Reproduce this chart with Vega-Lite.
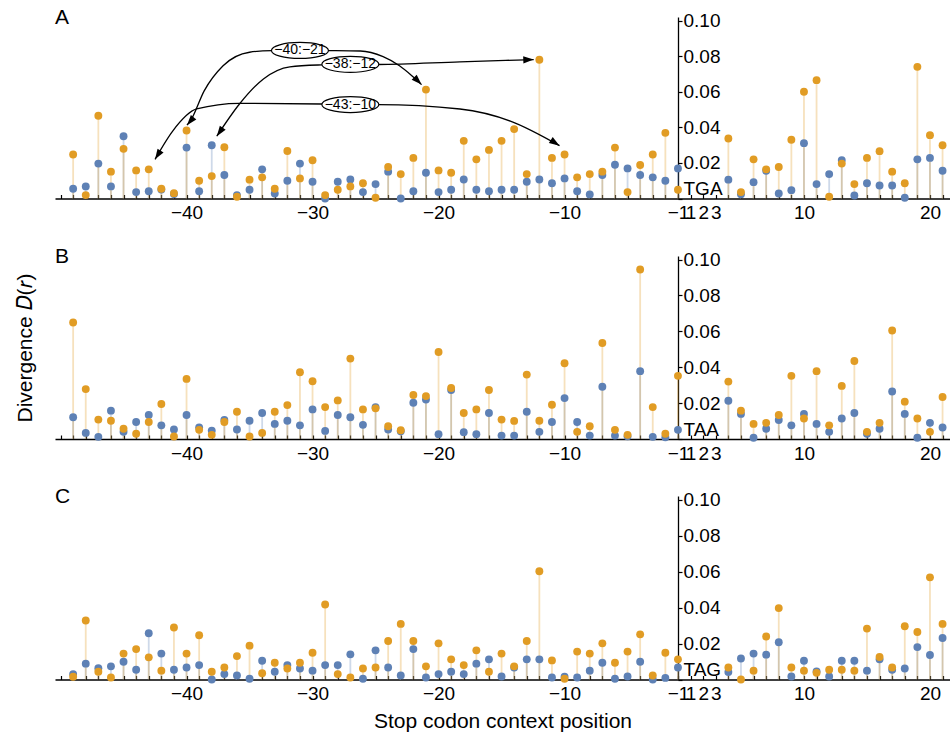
{
"$schema":"https://vega.github.io/schema/vega-lite/v6.json",
"padding":{"left":14,"top":6,"right":0,"bottom":0},
"background":"white",
"spacing":57,
"bounds":"flush",
"config":{"font":"Liberation Sans","view":{"stroke":null},
"axis":{"grid":false,"domainColor":"black","tickColor":"black","labelColor":"black","titleColor":"black","labelFontSize":19,"titleFontSize":21,"titleFontWeight":"normal","domainWidth":1.3,"tickWidth":1.2,"labelOverlap":false,"labelFont":"Liberation Sans","titleFont":"Liberation Sans"},
"title":{"fontSize":21,"fontWeight":"normal","anchor":"start","frame":"group","offset":-16,"color":"black","font":"Liberation Sans"}},
"datasets":{
"A":[
{"pos":-49,"s":"b","D":0.0055},{"pos":-49,"s":"o","D":0.0247},{"pos":-48,"s":"b","D":0.0068},{"pos":-48,"s":"o","D":0.0019},{"pos":-47,"s":"b","D":0.0196},{"pos":-47,"s":"o","D":0.0465},{"pos":-46,"s":"b","D":0.0068},{"pos":-46,"s":"o","D":0.0151},{"pos":-45,"s":"b","D":0.035},{"pos":-45,"s":"o","D":0.0279},{"pos":-44,"s":"b","D":0.0036},{"pos":-44,"s":"o","D":0.0158},{"pos":-43,"s":"b","D":0.0041},{"pos":-43,"s":"o","D":0.0164},{"pos":-42,"s":"b","D":0.005},{"pos":-42,"s":"o","D":0.0055},{"pos":-41,"s":"b","D":0.0025},{"pos":-41,"s":"o","D":0.003},{"pos":-40,"s":"b","D":0.0286},{"pos":-40,"s":"o","D":0.0382},{"pos":-39,"s":"b","D":0.0041},{"pos":-39,"s":"o","D":0.01},{"pos":-38,"s":"b","D":0.0299},{"pos":-38,"s":"o","D":0.0126},{"pos":-37,"s":"b","D":0.0132},{"pos":-37,"s":"o","D":0.0288},{"pos":-36,"s":"b","D":0.0019},{"pos":-36,"s":"o","D":0.001},{"pos":-35,"s":"b","D":0.0049},{"pos":-35,"s":"o","D":0.0106},{"pos":-34,"s":"b","D":0.0164},{"pos":-34,"s":"o","D":0.0119},{"pos":-33,"s":"b","D":0.0028},{"pos":-33,"s":"o","D":0.0055},{"pos":-32,"s":"b","D":0.01},{"pos":-32,"s":"o","D":0.0267},{"pos":-31,"s":"b","D":0.0196},{"pos":-31,"s":"o","D":0.0113},{"pos":-30,"s":"b","D":0.0094},{"pos":-30,"s":"o","D":0.0215},
{"pos":-29,"s":"b","D":0.0},{"pos":-29,"s":"o","D":0.0019},{"pos":-28,"s":"b","D":0.0094},{"pos":-28,"s":"o","D":0.0049},{"pos":-27,"s":"b","D":0.0107},{"pos":-27,"s":"o","D":0.0068},{"pos":-26,"s":"b","D":0.0036},{"pos":-26,"s":"o","D":0.0086},{"pos":-25,"s":"b","D":0.0081},{"pos":-25,"s":"o","D":0.0004},{"pos":-24,"s":"b","D":0.0151},{"pos":-24,"s":"o","D":0.0177},{"pos":-23,"s":"b","D":0.0},{"pos":-23,"s":"o","D":0.0137},{"pos":-22,"s":"b","D":0.0041},{"pos":-22,"s":"o","D":0.0228},{"pos":-21,"s":"b","D":0.0145},{"pos":-21,"s":"o","D":0.0612},{"pos":-20,"s":"b","D":0.0036},{"pos":-20,"s":"o","D":0.0158},{"pos":-19,"s":"b","D":0.0049},{"pos":-19,"s":"o","D":0.0145},{"pos":-18,"s":"b","D":0.0107},{"pos":-18,"s":"o","D":0.0324},{"pos":-17,"s":"b","D":0.0049},{"pos":-17,"s":"o","D":0.022},{"pos":-16,"s":"b","D":0.0041},{"pos":-16,"s":"o","D":0.0273},{"pos":-15,"s":"b","D":0.0049},{"pos":-15,"s":"o","D":0.0324},{"pos":-14,"s":"b","D":0.0049},{"pos":-14,"s":"o","D":0.039},{"pos":-13,"s":"b","D":0.0094},{"pos":-13,"s":"o","D":0.0137},{"pos":-12,"s":"b","D":0.0107},{"pos":-12,"s":"o","D":0.078},{"pos":-11,"s":"b","D":0.0086},{"pos":-11,"s":"o","D":0.0228},{"pos":-10,"s":"b","D":0.0113},{"pos":-10,"s":"o","D":0.0247},
{"pos":-9,"s":"b","D":0.0041},{"pos":-9,"s":"o","D":0.0119},{"pos":-8,"s":"b","D":0.0023},{"pos":-8,"s":"o","D":0.0137},{"pos":-7,"s":"b","D":0.0132},{"pos":-7,"s":"o","D":0.0151},{"pos":-6,"s":"b","D":0.019},{"pos":-6,"s":"o","D":0.0286},{"pos":-5,"s":"b","D":0.0169},{"pos":-5,"s":"o","D":0.0036},{"pos":-4,"s":"b","D":0.0132},{"pos":-4,"s":"o","D":0.0188},{"pos":-3,"s":"b","D":0.0119},{"pos":-3,"s":"o","D":0.0247},{"pos":-2,"s":"b","D":0.01},{"pos":-2,"s":"o","D":0.0369},{"pos":-1,"s":"b","D":0.0169},{"pos":-1,"s":"o","D":0.0049},
{"pos":4,"s":"b","D":0.0106},{"pos":4,"s":"o","D":0.0337},{"pos":5,"s":"b","D":0.0024},{"pos":5,"s":"o","D":0.0036},{"pos":6,"s":"b","D":0.0092},{"pos":6,"s":"o","D":0.022},{"pos":7,"s":"b","D":0.0156},{"pos":7,"s":"o","D":0.0164},{"pos":8,"s":"b","D":0.0028},{"pos":8,"s":"o","D":0.0177},{"pos":9,"s":"b","D":0.0047},{"pos":9,"s":"o","D":0.033},{"pos":10,"s":"b","D":0.0311},{"pos":10,"s":"o","D":0.06},{"pos":11,"s":"b","D":0.0081},{"pos":11,"s":"o","D":0.0665},{"pos":12,"s":"b","D":0.0137},{"pos":12,"s":"o","D":0.001},{"pos":13,"s":"b","D":0.0216},{"pos":13,"s":"o","D":0.0196},{"pos":14,"s":"b","D":0.0017},{"pos":14,"s":"o","D":0.0081},{"pos":15,"s":"b","D":0.0086},{"pos":15,"s":"o","D":0.0228},{"pos":16,"s":"b","D":0.0073},{"pos":16,"s":"o","D":0.0266},{"pos":17,"s":"b","D":0.0073},{"pos":17,"s":"o","D":0.0151},{"pos":18,"s":"b","D":0.0004},{"pos":18,"s":"o","D":0.0086},{"pos":19,"s":"b","D":0.022},{"pos":19,"s":"o","D":0.074},{"pos":20,"s":"b","D":0.0228},{"pos":20,"s":"o","D":0.0356},{"pos":21,"s":"b","D":0.0156},{"pos":21,"s":"o","D":0.0299}],
"B":[
{"pos":-49,"s":"b","D":0.0121},{"pos":-49,"s":"o","D":0.0649},{"pos":-48,"s":"b","D":0.0034},{"pos":-48,"s":"o","D":0.0278},{"pos":-47,"s":"b","D":0.0012},{"pos":-47,"s":"o","D":0.0108},{"pos":-46,"s":"b","D":0.0158},{"pos":-46,"s":"o","D":0.0102},{"pos":-45,"s":"b","D":0.004},{"pos":-45,"s":"o","D":0.0057},{"pos":-44,"s":"b","D":0.0095},{"pos":-44,"s":"o","D":0.0029},{"pos":-43,"s":"b","D":0.0134},{"pos":-43,"s":"o","D":0.0095},{"pos":-42,"s":"b","D":0.0076},{"pos":-42,"s":"o","D":0.0195},{"pos":-41,"s":"b","D":0.0053},{"pos":-41,"s":"o","D":0.0014},{"pos":-40,"s":"b","D":0.0134},{"pos":-40,"s":"o","D":0.0335},{"pos":-39,"s":"b","D":0.0065},{"pos":-39,"s":"o","D":0.0051},{"pos":-38,"s":"b","D":0.0047},{"pos":-38,"s":"o","D":0.0023},{"pos":-37,"s":"b","D":0.0106},{"pos":-37,"s":"o","D":0.0095},{"pos":-36,"s":"b","D":0.0053},{"pos":-36,"s":"o","D":0.0152},{"pos":-35,"s":"b","D":0.0102},{"pos":-35,"s":"o","D":0.0014},{"pos":-34,"s":"b","D":0.0145},{"pos":-34,"s":"o","D":0.0034},{"pos":-33,"s":"b","D":0.0084},{"pos":-33,"s":"o","D":0.0152},{"pos":-32,"s":"b","D":0.0102},{"pos":-32,"s":"o","D":0.0189},{"pos":-31,"s":"b","D":0.0076},{"pos":-31,"s":"o","D":0.0372},{"pos":-30,"s":"b","D":0.0165},{"pos":-30,"s":"o","D":0.0322},
{"pos":-29,"s":"b","D":0.0045},{"pos":-29,"s":"o","D":0.0178},{"pos":-28,"s":"b","D":0.0134},{"pos":-28,"s":"o","D":0.0215},{"pos":-27,"s":"b","D":0.0121},{"pos":-27,"s":"o","D":0.0448},{"pos":-26,"s":"b","D":0.0079},{"pos":-26,"s":"o","D":0.0165},{"pos":-25,"s":"b","D":0.0178},{"pos":-25,"s":"o","D":0.0171},{"pos":-24,"s":"b","D":0.0053},{"pos":-24,"s":"o","D":0.0071},{"pos":-23,"s":"b","D":0.0043},{"pos":-23,"s":"o","D":0.0049},{"pos":-22,"s":"b","D":0.0202},{"pos":-22,"s":"o","D":0.0245},{"pos":-21,"s":"b","D":0.022},{"pos":-21,"s":"o","D":0.0239},{"pos":-20,"s":"b","D":0.0027},{"pos":-20,"s":"o","D":0.0485},{"pos":-19,"s":"b","D":0.0273},{"pos":-19,"s":"o","D":0.0284},{"pos":-18,"s":"b","D":0.0038},{"pos":-18,"s":"o","D":0.0145},{"pos":-17,"s":"b","D":0.0027},{"pos":-17,"s":"o","D":0.0165},{"pos":-16,"s":"b","D":0.0145},{"pos":-16,"s":"o","D":0.0273},{"pos":-15,"s":"b","D":0.0019},{"pos":-15,"s":"o","D":0.0108},{"pos":-14,"s":"b","D":0.0019},{"pos":-14,"s":"o","D":0.0101},{"pos":-13,"s":"b","D":0.0152},{"pos":-13,"s":"o","D":0.0359},{"pos":-12,"s":"b","D":0.004},{"pos":-12,"s":"o","D":0.0102},{"pos":-11,"s":"b","D":0.0095},{"pos":-11,"s":"o","D":0.0191},{"pos":-10,"s":"b","D":0.0228},{"pos":-10,"s":"o","D":0.0422},
{"pos":-9,"s":"b","D":0.0095},{"pos":-9,"s":"o","D":0.004},{"pos":-8,"s":"b","D":0.0019},{"pos":-8,"s":"o","D":0.0071},{"pos":-7,"s":"b","D":0.0291},{"pos":-7,"s":"o","D":0.0535},{"pos":-6,"s":"b","D":0.0019},{"pos":-6,"s":"o","D":0.0051},{"pos":-5,"s":"b","D":0.0015},{"pos":-5,"s":"o","D":0.0023},{"pos":-4,"s":"b","D":0.0378},{"pos":-4,"s":"o","D":0.0945},{"pos":-3,"s":"b","D":0.0012},{"pos":-3,"s":"o","D":0.0178},{"pos":-2,"s":"b","D":0.001},{"pos":-2,"s":"o","D":0.0029},{"pos":-1,"s":"b","D":0.0051},{"pos":-1,"s":"o","D":0.0352},
{"pos":4,"s":"b","D":0.0213},{"pos":4,"s":"o","D":0.032},{"pos":5,"s":"b","D":0.014},{"pos":5,"s":"o","D":0.0158},{"pos":6,"s":"b","D":0.0007},{"pos":6,"s":"o","D":0.0084},{"pos":7,"s":"b","D":0.0057},{"pos":7,"s":"o","D":0.009},{"pos":8,"s":"b","D":0.0106},{"pos":8,"s":"o","D":0.0134},{"pos":9,"s":"b","D":0.0076},{"pos":9,"s":"o","D":0.0352},{"pos":10,"s":"b","D":0.014},{"pos":10,"s":"o","D":0.0114},{"pos":11,"s":"b","D":0.0084},{"pos":11,"s":"o","D":0.0378},{"pos":12,"s":"b","D":0.004},{"pos":12,"s":"o","D":0.0076},{"pos":13,"s":"b","D":0.0114},{"pos":13,"s":"o","D":0.0296},{"pos":14,"s":"b","D":0.0145},{"pos":14,"s":"o","D":0.0435},{"pos":15,"s":"b","D":0.0029},{"pos":15,"s":"o","D":0.004},{"pos":16,"s":"b","D":0.0057},{"pos":16,"s":"o","D":0.009},{"pos":17,"s":"b","D":0.0265},{"pos":17,"s":"o","D":0.0605},{"pos":18,"s":"b","D":0.014},{"pos":18,"s":"o","D":0.0208},{"pos":19,"s":"b","D":0.0007},{"pos":19,"s":"o","D":0.0114},{"pos":20,"s":"b","D":0.009},{"pos":20,"s":"o","D":0.004},{"pos":21,"s":"b","D":0.0064},{"pos":21,"s":"o","D":0.0234}],
"C":[
{"pos":-49,"s":"b","D":0.003},{"pos":-49,"s":"o","D":0.0015},{"pos":-48,"s":"b","D":0.0088},{"pos":-48,"s":"o","D":0.0328},{"pos":-47,"s":"b","D":0.0063},{"pos":-47,"s":"o","D":0.0043},{"pos":-46,"s":"b","D":0.0073},{"pos":-46,"s":"o","D":0.0011},{"pos":-45,"s":"b","D":0.0099},{"pos":-45,"s":"o","D":0.0144},{"pos":-44,"s":"b","D":0.0054},{"pos":-44,"s":"o","D":0.0169},{"pos":-43,"s":"b","D":0.0257},{"pos":-43,"s":"o","D":0.0123},{"pos":-42,"s":"b","D":0.0144},{"pos":-42,"s":"o","D":0.0049},{"pos":-41,"s":"b","D":0.0054},{"pos":-41,"s":"o","D":0.0289},{"pos":-40,"s":"b","D":0.0067},{"pos":-40,"s":"o","D":0.0144},{"pos":-39,"s":"b","D":0.008},{"pos":-39,"s":"o","D":0.0246},{"pos":-38,"s":"b","D":0.0},{"pos":-38,"s":"o","D":0.0043},{"pos":-37,"s":"b","D":0.003},{"pos":-37,"s":"o","D":0.0067},{"pos":-36,"s":"b","D":0.0022},{"pos":-36,"s":"o","D":0.013},{"pos":-35,"s":"b","D":0.0004},{"pos":-35,"s":"o","D":0.0188},{"pos":-34,"s":"b","D":0.0104},{"pos":-34,"s":"o","D":0.0035},{"pos":-33,"s":"b","D":0.0043},{"pos":-33,"s":"o","D":0.0093},{"pos":-32,"s":"b","D":0.008},{"pos":-32,"s":"o","D":0.0061},{"pos":-31,"s":"b","D":0.0061},{"pos":-31,"s":"o","D":0.0093},{"pos":-30,"s":"b","D":0.0049},{"pos":-30,"s":"o","D":0.0149},
{"pos":-29,"s":"b","D":0.008},{"pos":-29,"s":"o","D":0.0417},{"pos":-28,"s":"b","D":0.008},{"pos":-28,"s":"o","D":0.003},{"pos":-27,"s":"b","D":0.014},{"pos":-27,"s":"o","D":0.0011},{"pos":-26,"s":"b","D":0.0004},{"pos":-26,"s":"o","D":0.0061},{"pos":-25,"s":"b","D":0.0162},{"pos":-25,"s":"o","D":0.0067},{"pos":-24,"s":"b","D":0.0067},{"pos":-24,"s":"o","D":0.0214},{"pos":-23,"s":"b","D":0.0022},{"pos":-23,"s":"o","D":0.0309},{"pos":-22,"s":"b","D":0.0169},{"pos":-22,"s":"o","D":0.0214},{"pos":-21,"s":"b","D":0.0011},{"pos":-21,"s":"o","D":0.0073},{"pos":-20,"s":"b","D":0.003},{"pos":-20,"s":"o","D":0.0201},{"pos":-19,"s":"b","D":0.0043},{"pos":-19,"s":"o","D":0.0112},{"pos":-18,"s":"b","D":0.003},{"pos":-18,"s":"o","D":0.008},{"pos":-17,"s":"b","D":0.0088},{"pos":-17,"s":"o","D":0.0162},{"pos":-16,"s":"b","D":0.0112},{"pos":-16,"s":"o","D":0.0043},{"pos":-15,"s":"b","D":0.0017},{"pos":-15,"s":"o","D":0.0144},{"pos":-14,"s":"b","D":0.0067},{"pos":-14,"s":"o","D":0.0073},{"pos":-13,"s":"b","D":0.0112},{"pos":-13,"s":"o","D":0.0214},{"pos":-12,"s":"b","D":0.0112},{"pos":-12,"s":"o","D":0.0602},{"pos":-11,"s":"b","D":0.0011},{"pos":-11,"s":"o","D":0.0106},{"pos":-10,"s":"b","D":0.0015},{"pos":-10,"s":"o","D":0.0004},
{"pos":-9,"s":"b","D":0.0011},{"pos":-9,"s":"o","D":0.0155},{"pos":-8,"s":"b","D":0.0049},{"pos":-8,"s":"o","D":0.0144},{"pos":-7,"s":"b","D":0.0093},{"pos":-7,"s":"o","D":0.0201},{"pos":-6,"s":"b","D":0.0004},{"pos":-6,"s":"o","D":0.0093},{"pos":-5,"s":"b","D":0.0017},{"pos":-5,"s":"o","D":0.0155},{"pos":-4,"s":"b","D":0.0099},{"pos":-4,"s":"o","D":0.0251},{"pos":-3,"s":"b","D":0.0},{"pos":-3,"s":"o","D":0.0022},{"pos":-2,"s":"b","D":0.0009},{"pos":-2,"s":"o","D":0.0149},{"pos":-1,"s":"b","D":0.0067},{"pos":-1,"s":"o","D":0.0112},
{"pos":4,"s":"b","D":0.0041},{"pos":4,"s":"o","D":0.0067},{"pos":5,"s":"b","D":0.0117},{"pos":5,"s":"o","D":0.0},{"pos":6,"s":"b","D":0.0144},{"pos":6,"s":"o","D":0.0049},{"pos":7,"s":"b","D":0.0138},{"pos":7,"s":"o","D":0.0239},{"pos":8,"s":"b","D":0.0207},{"pos":8,"s":"o","D":0.0397},{"pos":9,"s":"b","D":0.0017},{"pos":9,"s":"o","D":0.0067},{"pos":10,"s":"b","D":0.0104},{"pos":10,"s":"o","D":0.0049},{"pos":11,"s":"b","D":0.0045},{"pos":11,"s":"o","D":0.0037},{"pos":12,"s":"b","D":0.0017},{"pos":12,"s":"o","D":0.0054},{"pos":13,"s":"b","D":0.0104},{"pos":13,"s":"o","D":0.0054},{"pos":14,"s":"b","D":0.0104},{"pos":14,"s":"o","D":0.0049},{"pos":15,"s":"b","D":0.0049},{"pos":15,"s":"o","D":0.0283},{"pos":16,"s":"b","D":0.0112},{"pos":16,"s":"o","D":0.0125},{"pos":17,"s":"b","D":0.0054},{"pos":17,"s":"o","D":0.0067},{"pos":18,"s":"b","D":0.0061},{"pos":18,"s":"o","D":0.0296},{"pos":19,"s":"b","D":0.018},{"pos":19,"s":"o","D":0.0264},{"pos":20,"s":"b","D":0.0136},{"pos":20,"s":"o","D":0.0568},{"pos":21,"s":"b","D":0.0231},{"pos":21,"s":"o","D":0.0309}],
"arrows":[
{"arrow":"1L","x":-31.0,"D":0.0832},{"arrow":"1L","x":-33.2,"D":0.0831},{"arrow":"1L","x":-35.0,"D":0.0822},{"arrow":"1L","x":-37.1,"D":0.0746},{"arrow":"1L","x":-38.6,"D":0.0605},{"arrow":"1L","x":-39.7,"D":0.0435},{"arrow":"1L","x":-39.97,"D":0.0412},
{"arrow":"1R","x":-31.0,"D":0.0832},{"arrow":"1R","x":-28.8,"D":0.0831},{"arrow":"1R","x":-26.2,"D":0.0829},{"arrow":"1R","x":-24.4,"D":0.0797},{"arrow":"1R","x":-23.1,"D":0.0746},{"arrow":"1R","x":-22.1,"D":0.0689},{"arrow":"1R","x":-21.35,"D":0.064},
{"arrow":"2L","x":-27.0,"D":0.0754},{"arrow":"2L","x":-29.3,"D":0.0751},{"arrow":"2L","x":-31.8,"D":0.074},{"arrow":"2L","x":-33.9,"D":0.0672},{"arrow":"2L","x":-35.8,"D":0.0531},{"arrow":"2L","x":-37.6,"D":0.035},
{"arrow":"2R","x":-27.0,"D":0.0754},{"arrow":"2R","x":-24.8,"D":0.0753},{"arrow":"2R","x":-18.3,"D":0.0768},{"arrow":"2R","x":-12.45,"D":0.0781},
{"arrow":"3L","x":-27.0,"D":0.0528},{"arrow":"3L","x":-29.3,"D":0.0531},{"arrow":"3L","x":-35.8,"D":0.0535},{"arrow":"3L","x":-39.2,"D":0.0503},{"arrow":"3L","x":-41.1,"D":0.0379},{"arrow":"3L","x":-42.5,"D":0.022},
{"arrow":"3R","x":-27.0,"D":0.0528},{"arrow":"3R","x":-24.8,"D":0.0528},{"arrow":"3R","x":-18.3,"D":0.0503},{"arrow":"3R","x":-14.3,"D":0.0435},{"arrow":"3R","x":-10.4,"D":0.0297}],
"tips":[{"arrow":"1L","x":-39.97,"D":0.0412},{"arrow":"1R","x":-21.35,"D":0.064},{"arrow":"2L","x":-37.6,"D":0.035},{"arrow":"2R","x":-12.45,"D":0.0781},{"arrow":"3L","x":-42.5,"D":0.022},{"arrow":"3R","x":-10.4,"D":0.0297}],
"labels":[{"label":"−40:−21","x":-31.0,"D":0.0832},{"label":"−38:−12","x":-27.0,"D":0.0754},{"label":"−43:−10","x":-27.0,"D":0.0528}]
},
"vconcat":[
{"width":895,"height":181.5,"title":{"text":"A"},
"data":{"name":"A"},
"encoding":{
"x":{"field":"x","type":"quantitative","scale":{"domain":[-50.44,20.59],"nice":false,"zero":false},
"axis":{"values":[-50,-49,-48,-47,-46,-45,-44,-43,-42,-41,-40,-39,-38,-37,-36,-35,-34,-33,-32,-31,-30,-29,-28,-27,-26,-25,-24,-23,-22,-21,-20,-19,-18,-17,-16,-15,-14,-13,-12,-11,-10,-9,-8,-7,-6,-5,-4,-3,-2,-1,0,1,2,3,4,5,6,7,8,9,10,11,12,13,14,15,16,17,18,19,20],"labelExpr":"indexof([-40,-30,-20,-10,-1,0,1,2,9,19], datum.value) >= 0 ? format(datum.value >= 0 ? datum.value + 1 : datum.value, 'd') : ''","labelFlush":false,"labelBound":false,"tickSize":-4,"labelPadding":9,"title":null}},
"y":{"field":"D","type":"quantitative","scale":{"domain":[0,0.102],"nice":false},
"axis":{"orient":"right","offset":-272,"values":[0,0.02,0.04,0.06,0.08,0.1],"labelExpr":"datum.value == 0 ? 'TGA' : format(datum.value, '.2f')","labelBaseline":{"condition":{"test":"datum.value == 0","value":"bottom"},"value":"middle"},"tickSize":4,"labelPadding":1,"title":null}}},
"layer":[
{"transform":[{"filter":"datum.s == 'b'"},{"calculate":"datum.pos > 0 ? datum.pos - 1 : datum.pos","as":"x"}],"mark":{"type":"rule","color":"#5E81B5","opacity":0.3,"strokeWidth":1.8},"encoding":{"y2":{"datum":0}}},
{"transform":[{"filter":"datum.s == 'o'"},{"calculate":"datum.pos > 0 ? datum.pos - 1 : datum.pos","as":"x"}],"mark":{"type":"rule","color":"#E19C24","opacity":0.3,"strokeWidth":1.8},"encoding":{"y2":{"datum":0}}},
{"transform":[{"filter":"datum.s == 'b'"},{"calculate":"datum.pos > 0 ? datum.pos - 1 : datum.pos","as":"x"}],"mark":{"type":"point","filled":true,"color":"#5E81B5","opacity":1,"size":62}},
{"transform":[{"filter":"datum.s == 'o'"},{"calculate":"datum.pos > 0 ? datum.pos - 1 : datum.pos","as":"x"}],"mark":{"type":"point","filled":true,"color":"#E19C24","opacity":1,"size":62}},
{"data":{"name":"arrows"},"mark":{"type":"line","interpolate":"monotone","color":"black","strokeWidth":1.3},"encoding":{"detail":{"field":"arrow"}}},
{"data":{"name":"tips"},"transform":[{"filter":"datum.arrow == '1L'"}],"mark":{"type":"point","shape":"M0,0L0.65,1.9L-0.65,1.9Z","filled":true,"color":"black","opacity":1,"size":120,"angle":220}},
{"data":{"name":"tips"},"transform":[{"filter":"datum.arrow == '1R'"}],"mark":{"type":"point","shape":"M0,0L0.65,1.9L-0.65,1.9Z","filled":true,"color":"black","opacity":1,"size":120,"angle":135}},
{"data":{"name":"tips"},"transform":[{"filter":"datum.arrow == '2L'"}],"mark":{"type":"point","shape":"M0,0L0.65,1.9L-0.65,1.9Z","filled":true,"color":"black","opacity":1,"size":120,"angle":215}},
{"data":{"name":"tips"},"transform":[{"filter":"datum.arrow == '2R'"}],"mark":{"type":"point","shape":"M0,0L0.65,1.9L-0.65,1.9Z","filled":true,"color":"black","opacity":1,"size":120,"angle":88}},
{"data":{"name":"tips"},"transform":[{"filter":"datum.arrow == '3L'"}],"mark":{"type":"point","shape":"M0,0L0.65,1.9L-0.65,1.9Z","filled":true,"color":"black","opacity":1,"size":120,"angle":212}},
{"data":{"name":"tips"},"transform":[{"filter":"datum.arrow == '3R'"}],"mark":{"type":"point","shape":"M0,0L0.65,1.9L-0.65,1.9Z","filled":true,"color":"black","opacity":1,"size":120,"angle":123}},
{"data":{"name":"labels"},"mark":{"type":"point","shape":"M-1,0A1,0.28,0,1,0,1,0A1,0.28,0,1,0,-1,0Z","filled":true,"fill":"white","stroke":"black","strokeWidth":1.2,"opacity":1,"size":3249}},
{"data":{"name":"labels"},"mark":{"type":"text","fontSize":14,"color":"black","font":"Liberation Sans"},"encoding":{"text":{"field":"label"}}}
]},
{"width":895,"height":183,"title":{"text":"B"},
"data":{"name":"B"},
"transform":[{"calculate":"datum.pos > 0 ? datum.pos - 1 : datum.pos","as":"x"}],
"encoding":{
"x":{"field":"x","type":"quantitative","scale":{"domain":[-50.44,20.59],"nice":false,"zero":false},
"axis":{"values":[-50,-49,-48,-47,-46,-45,-44,-43,-42,-41,-40,-39,-38,-37,-36,-35,-34,-33,-32,-31,-30,-29,-28,-27,-26,-25,-24,-23,-22,-21,-20,-19,-18,-17,-16,-15,-14,-13,-12,-11,-10,-9,-8,-7,-6,-5,-4,-3,-2,-1,0,1,2,3,4,5,6,7,8,9,10,11,12,13,14,15,16,17,18,19,20],"labelExpr":"indexof([-40,-30,-20,-10,-1,0,1,2,9,19], datum.value) >= 0 ? format(datum.value >= 0 ? datum.value + 1 : datum.value, 'd') : ''","labelFlush":false,"labelBound":false,"tickSize":-4,"labelPadding":9,"title":null}}},
"layer":[
{"transform":[{"filter":"datum.s == 'b'"}],"mark":{"type":"rule","color":"#5E81B5","opacity":0.3,"strokeWidth":1.8},"encoding":{"y":{"field":"D","type":"quantitative","scale":{"domain":[0,0.102],"nice":false},"axis":{"orient":"right","offset":-272,"values":[0,0.02,0.04,0.06,0.08,0.1],"labelExpr":"datum.value == 0 ? 'TAA' : format(datum.value, '.2f')","labelBaseline":{"condition":{"test":"datum.value == 0","value":"bottom"},"value":"middle"},"tickSize":4,"labelPadding":1,"title":null}},"y2":{"datum":0}}},
{"transform":[{"filter":"datum.s == 'o'"}],"mark":{"type":"rule","color":"#E19C24","opacity":0.3,"strokeWidth":1.8},"encoding":{"y":{"field":"D","type":"quantitative","scale":{"domain":[0,0.102],"nice":false},"axis":null},"y2":{"datum":0}}},
{"transform":[{"filter":"datum.s == 'b'"}],"mark":{"type":"point","filled":true,"color":"#5E81B5","opacity":1,"size":62},"encoding":{"y":{"field":"D","type":"quantitative","scale":{"domain":[0,0.102],"nice":false},"axis":null}}},
{"transform":[{"filter":"datum.s == 'o'"}],"mark":{"type":"point","filled":true,"color":"#E19C24","opacity":1,"size":62},"encoding":{"y":{"field":"D","type":"quantitative","scale":{"domain":[0,0.102],"nice":false},"axis":{"orient":"left","title":"Divergence 𝐷(𝑟)","domain":false,"ticks":false,"labels":false,"grid":false,"titlePadding":20}}}}
],
"resolve":{"axis":{"y":"independent"}}},
{"width":895,"height":183.5,"title":{"text":"C"},
"data":{"name":"C"},
"transform":[{"calculate":"datum.pos > 0 ? datum.pos - 1 : datum.pos","as":"x"}],
"encoding":{
"x":{"field":"x","type":"quantitative","scale":{"domain":[-50.44,20.59],"nice":false,"zero":false},
"axis":{"values":[-50,-49,-48,-47,-46,-45,-44,-43,-42,-41,-40,-39,-38,-37,-36,-35,-34,-33,-32,-31,-30,-29,-28,-27,-26,-25,-24,-23,-22,-21,-20,-19,-18,-17,-16,-15,-14,-13,-12,-11,-10,-9,-8,-7,-6,-5,-4,-3,-2,-1,0,1,2,3,4,5,6,7,8,9,10,11,12,13,14,15,16,17,18,19,20],"labelExpr":"indexof([-40,-30,-20,-10,-1,0,1,2,9,19], datum.value) >= 0 ? format(datum.value >= 0 ? datum.value + 1 : datum.value, 'd') : ''","labelFlush":false,"labelBound":false,"tickSize":-4,"labelPadding":9,"title":"Stop codon context position","titlePadding":7}},
"y":{"field":"D","type":"quantitative","scale":{"domain":[0,0.102],"nice":false},
"axis":{"orient":"right","offset":-272,"values":[0,0.02,0.04,0.06,0.08,0.1],"labelExpr":"datum.value == 0 ? 'TAG' : format(datum.value, '.2f')","labelBaseline":{"condition":{"test":"datum.value == 0","value":"bottom"},"value":"middle"},"tickSize":4,"labelPadding":1,"title":null}}},
"layer":[
{"transform":[{"filter":"datum.s == 'b'"}],"mark":{"type":"rule","color":"#5E81B5","opacity":0.3,"strokeWidth":1.8},"encoding":{"y2":{"datum":0}}},
{"transform":[{"filter":"datum.s == 'o'"}],"mark":{"type":"rule","color":"#E19C24","opacity":0.3,"strokeWidth":1.8},"encoding":{"y2":{"datum":0}}},
{"transform":[{"filter":"datum.s == 'b'"}],"mark":{"type":"point","filled":true,"color":"#5E81B5","opacity":1,"size":62}},
{"transform":[{"filter":"datum.s == 'o'"}],"mark":{"type":"point","filled":true,"color":"#E19C24","opacity":1,"size":62}}
]}
]
}
